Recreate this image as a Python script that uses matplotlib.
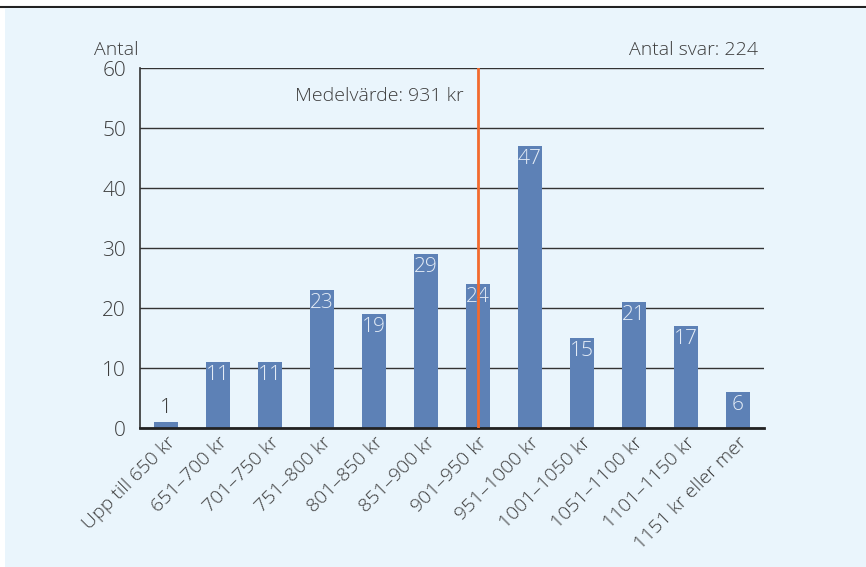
import matplotlib
matplotlib.use("Agg")
import matplotlib.pyplot as plt
from matplotlib.patches import Rectangle
from matplotlib.lines import Line2D

# data
categories = ["Upp till 650 kr", "651–700 kr", "701–750 kr", "751–800 kr",
              "801–850 kr", "851–900 kr", "901–950 kr", "951–1000 kr",
              "1001–1050 kr", "1051–1100 kr", "1101–1150 kr", "1151 kr eller mer"]
counts = [1, 11, 11, 23, 19, 29, 24, 47, 15, 21, 17, 6]
mean_value = 931
mean_bin = 6  # 901–950 kr
n_answers = 224

plt.rcParams['font.family'] = ['Open Sans', 'DejaVu Sans']
plt.rcParams['font.weight'] = 'light'

txt = '#3c3c3c'
bar_col = '#5d81b6'
bg = '#eaf5fc'

fig = plt.figure(figsize=(8.66, 5.67), dpi=100)
fig.patch.set_facecolor('white')
fig.patches.append(Rectangle((5/866, 0), 1, (567-8)/567, transform=fig.transFigure,
                             facecolor=bg, edgecolor='none', zorder=-5))
fig.lines.append(Line2D([0, 1], [1-7/567, 1-7/567], transform=fig.transFigure,
                        color='#222222', lw=1.5, zorder=-5))

ax = fig.add_axes([140/866, 1-428/567, 624/866, 360/567])
ax.set_facecolor('none')

x = range(len(categories))
ax.bar(x, counts, width=0.48, color=bar_col, zorder=2)

for i, v in enumerate(counts):
    if v < 4:
        ax.text(i, v + 0.6, str(v), ha='center', va='bottom', color=txt, fontsize=15)
    else:
        ax.text(i, v - 0.5, str(v), ha='center', va='top', color='#e4ecf6', fontsize=15, zorder=3)

ax.axvline(mean_bin, color='#f26a2e', lw=2, zorder=4)
ax.text(mean_bin - 0.27, 55.3, f"Medelvärde: {mean_value} kr", ha='right', va='center',
        color=txt, fontsize=14)

ax.set_xlim(-0.5, 11.5)
ax.set_ylim(0, 60)
ax.set_yticks(range(0, 61, 10))
ax.yaxis.grid(True, color='#333333', lw=1)
ax.set_axisbelow(True)
ax.tick_params(axis='y', length=0, pad=10, labelsize=15, labelcolor=txt)
ax.tick_params(axis='x', length=0, pad=4, labelsize=14, labelcolor=txt)
ax.set_xticks(list(x))
ax.set_xticklabels(categories, rotation=45, ha='right', rotation_mode='anchor')

for s in ['top', 'right']:
    ax.spines[s].set_visible(False)
ax.spines['left'].set_color('#333333')
ax.spines['left'].set_linewidth(1.2)
ax.spines['bottom'].set_color('#222222')
ax.spines['bottom'].set_linewidth(2)

ax.text(-0.003, 1.036, "Antal", transform=ax.transAxes, ha='right', va='baseline',
        color=txt, fontsize=14)
ax.text(0.99, 1.036, f"Antal svar: {n_answers}", transform=ax.transAxes, ha='right',
        va='baseline', color=txt, fontsize=14)

fig.savefig("out.png", dpi=100, facecolor=fig.get_facecolor())
